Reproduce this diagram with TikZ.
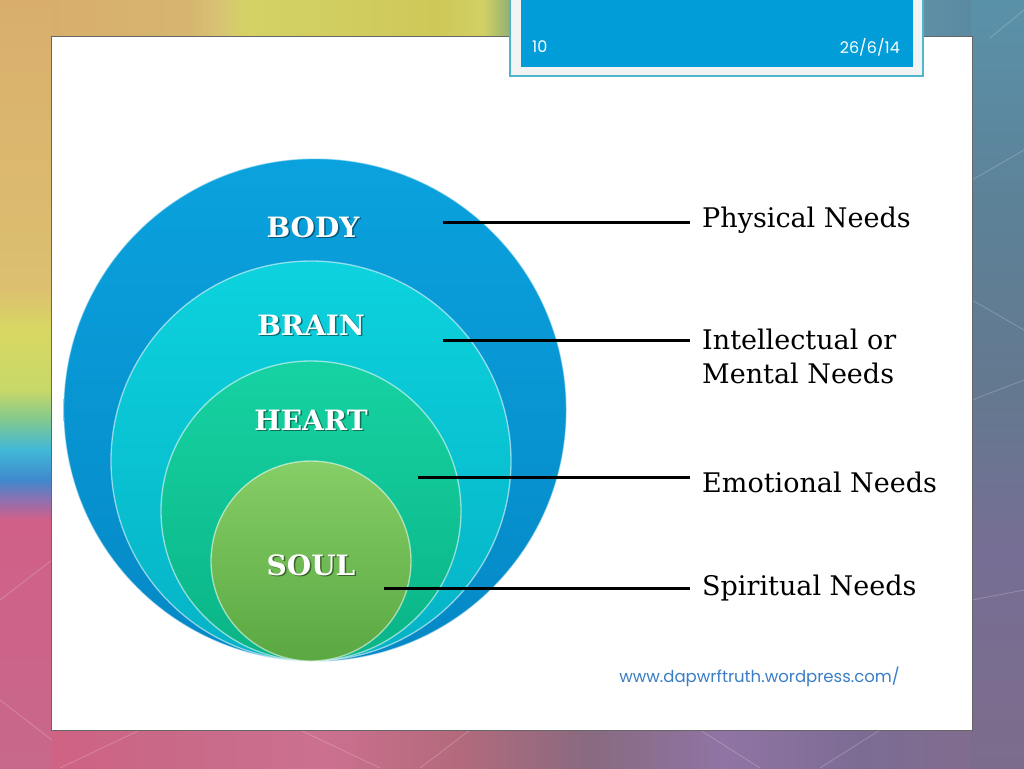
\documentclass[tikz,border=0pt]{standalone}
\usepackage{fontspec}
\newfontfamily\needfont{DejaVu Serif}
\newfontfamily\geofont{Poppins}
\usetikzlibrary{calc}
\definecolor{boxblue}{HTML}{009DD9}
\definecolor{boxrim}{HTML}{F2F4F4}
\definecolor{boxedge}{HTML}{4DB6CC}
\definecolor{urlblue}{HTML}{3A7EC6}
\definecolor{bodyT}{HTML}{0AA2DE}\definecolor{bodyB}{HTML}{0588C6}
\definecolor{brainT}{HTML}{0DD2DE}\definecolor{brainB}{HTML}{05B2C6}
\definecolor{heartT}{HTML}{16D2A2}\definecolor{heartB}{HTML}{0AB486}
\definecolor{soulT}{HTML}{86CE66}\definecolor{soulB}{HTML}{5AA842}
% background colours
\definecolor{l0}{HTML}{C8688A}\definecolor{l1}{HTML}{D06088}\definecolor{l2}{HTML}{9070B0}
\definecolor{l3}{HTML}{4088CC}\definecolor{l4}{HTML}{40B8D8}\definecolor{l5}{HTML}{80C890}
\definecolor{l6}{HTML}{C8D868}\definecolor{l7}{HTML}{D8D862}\definecolor{l8}{HTML}{DCC070}
\definecolor{l9}{HTML}{D9AE6C}
\definecolor{r0}{HTML}{7C6C8C}\definecolor{r1}{HTML}{766E94}\definecolor{r2}{HTML}{64788F}
\definecolor{r3}{HTML}{5C8298}\definecolor{r4}{HTML}{5A92AA}
\definecolor{t0}{HTML}{D8AE6C}\definecolor{t1}{HTML}{D6B66E}\definecolor{t2}{HTML}{D8C274}
\definecolor{t3}{HTML}{D4D266}\definecolor{t4}{HTML}{CEC858}\definecolor{t5}{HTML}{D2D064}
\definecolor{t6}{HTML}{A8BC6E}\definecolor{t7}{HTML}{90AE78}\definecolor{t8}{HTML}{6494A8}
\definecolor{t9}{HTML}{5A8AA2}
\definecolor{b0}{HTML}{D06284}\definecolor{b1}{HTML}{C86A88}\definecolor{b2}{HTML}{CC7090}
\definecolor{b3}{HTML}{B46A7C}\definecolor{b4}{HTML}{886A80}\definecolor{b5}{HTML}{9074A4}
\definecolor{b6}{HTML}{7C6C94}\definecolor{b7}{HTML}{806C8E}
% TikZ maps the middle 25bp..75bp of a shading onto the filled box
\pgfdeclareverticalshading{leftstrip}{100bp}{color(0bp)=(l0); color(25bp)=(l0); color(41.15bp)=(l1);
  color(42.45bp)=(l2); color(43.75bp)=(l3); color(45.7bp)=(l4); color(47.65bp)=(l5);
  color(49.6bp)=(l6); color(53.5bp)=(l7); color(56.1bp)=(l8); color(75bp)=(l9); color(100bp)=(l9)}
\pgfdeclareverticalshading{rightstrip}{100bp}{color(0bp)=(r0); color(25bp)=(r0); color(39.2bp)=(r1);
  color(49bp)=(r2); color(62bp)=(r3); color(75bp)=(r4); color(100bp)=(r4)}
\pgfdeclarehorizontalshading{topstrip}{100bp}{color(0bp)=(t0); color(25bp)=(t0); color(32.5bp)=(t1);
  color(34bp)=(t2); color(35.5bp)=(t3); color(46bp)=(t4); color(48.45bp)=(t5); color(49.4bp)=(t6);
  color(50bp)=(t7); color(70.4bp)=(t8); color(75bp)=(t9); color(100bp)=(t9)}
\pgfdeclarehorizontalshading{bottomstrip}{100bp}{color(0bp)=(b0); color(25bp)=(b0); color(32.3bp)=(b1);
  color(39.65bp)=(b2); color(47bp)=(b3); color(54.3bp)=(b4); color(61.6bp)=(b5); color(68.95bp)=(b6);
  color(75bp)=(b7); color(100bp)=(b7)}
\begin{document}
\begin{tikzpicture}[x=1pt,y=-1pt,
  ring/.style={circle, inner sep=0pt, draw=white, draw opacity=0.55, line width=1.3pt},
  ringtext/.style={font=\needfont\bfseries\fontsize{28}{30}\selectfont, text=white, inner sep=0pt},
  ringshadow/.style={font=\needfont\bfseries\fontsize{28}{30}\selectfont, text=black, text opacity=0.45, inner sep=0pt},
  needlabel/.style={font=\needfont\fontsize{27}{34}\selectfont, text=black, anchor=west,
    align=left, inner ysep=0pt, inner xsep=12pt},
  connector/.style={line width=3pt, black},
  footer/.style={font=\geofont\fontsize{16}{18}\selectfont, text=white, inner sep=0pt},
  deco/.style={white, opacity=0.22, line width=0.8pt}]
\useasboundingbox (0,0) rectangle (1024,768);
% background frame
\shade[shading=leftstrip] (0,0) rectangle (52,768);
\shade[shading=rightstrip] (971,0) rectangle (1024,768);
\shade[shading=topstrip] (52,0) rectangle (971,38);
\shade[shading=bottomstrip] (52,729) rectangle (971,768);
\draw[deco] (0,600) -- (52,560); \draw[deco] (0,700) -- (52,740);
\draw[deco] (60,768) -- (140,730); \draw[deco] (300,730) -- (380,768);
\draw[deco] (420,768) -- (470,730); \draw[deco] (700,730) -- (760,768);
\draw[deco] (820,768) -- (880,730); \draw[deco] (972,400) -- (1024,380);
\draw[deco] (972,300) -- (1024,330); \draw[deco] (972,600) -- (1024,590);
\draw[deco] (972,180) -- (1024,150); \draw[deco] (990,38) -- (1024,10);
% white panel
\draw[fill=white, draw=black!60, line width=1pt] (51,37) rectangle (972,730);
% footer box
\draw[fill=boxrim, draw=boxedge, line width=1.2pt] (510,-3) rectangle (923,76);
\fill[boxblue] (521,-3) rectangle (913,67);
\node[footer, anchor=west] (pagenum) at (532,47) {10};
\node[footer, anchor=east] (date) at (900,47) {26/6/14};
% nested circles
\node[ring, minimum size=503pt, top color=bodyT, bottom color=bodyB] (body) at (315,410) {};
\node[ring, minimum size=400pt, top color=brainT, bottom color=brainB] (brain) at (311,461) {};
\node[ring, minimum size=300pt, top color=heartT, bottom color=heartB] (heart) at (311,511) {};
\node[ring, minimum size=200pt, top color=soulT, bottom color=soulB] (soul) at (311,561) {};
% circle labels
\node[ringshadow] (tbodys) at (314.5,228.5) {BODY};
\node[ringtext] (tbody) at (313,227) {BODY};
\node[ringshadow] (tbrains) at (312.5,326.5) {BRAIN};
\node[ringtext] (tbrain) at (311,325) {BRAIN};
\node[ringshadow] (thearts) at (312.5,421.5) {HEART};
\node[ringtext] (theart) at (311,420) {HEART};
\node[ringshadow] (tsouls) at (312.5,566.5) {SOUL};
\node[ringtext] (tsoul) at (311,565) {SOUL};
% needs labels
\node[needlabel] (lphys) at (690,220) {Physical Needs};
\node[needlabel] (lment) at (690,356) {Intellectual or\\Mental Needs};
\node[needlabel] (lemo) at (690,482) {Emotional Needs};
\node[needlabel] (lspi) at (690,588) {Spiritual Needs};
% connector start points
\coordinate (sbody) at (443,222);
\coordinate (sbrain) at (443,340);
\coordinate (sheart) at (418,477);
\coordinate (ssoul) at (384,588);
\draw[connector] (sbody) -- (sbody -| lphys.west);
\draw[connector] (sbrain) -- (sbrain -| lment.west);
\draw[connector] (sheart) -- (sheart -| lemo.west);
\draw[connector] (ssoul) -- (ssoul -| lspi.west);
% url
\node[font=\geofont\fontsize{16.5}{18}\selectfont, text=urlblue, anchor=east, inner sep=0pt] (url) at (900,677) {www.dapwrftruth.wordpress.com/};
\end{tikzpicture}
\end{document}
